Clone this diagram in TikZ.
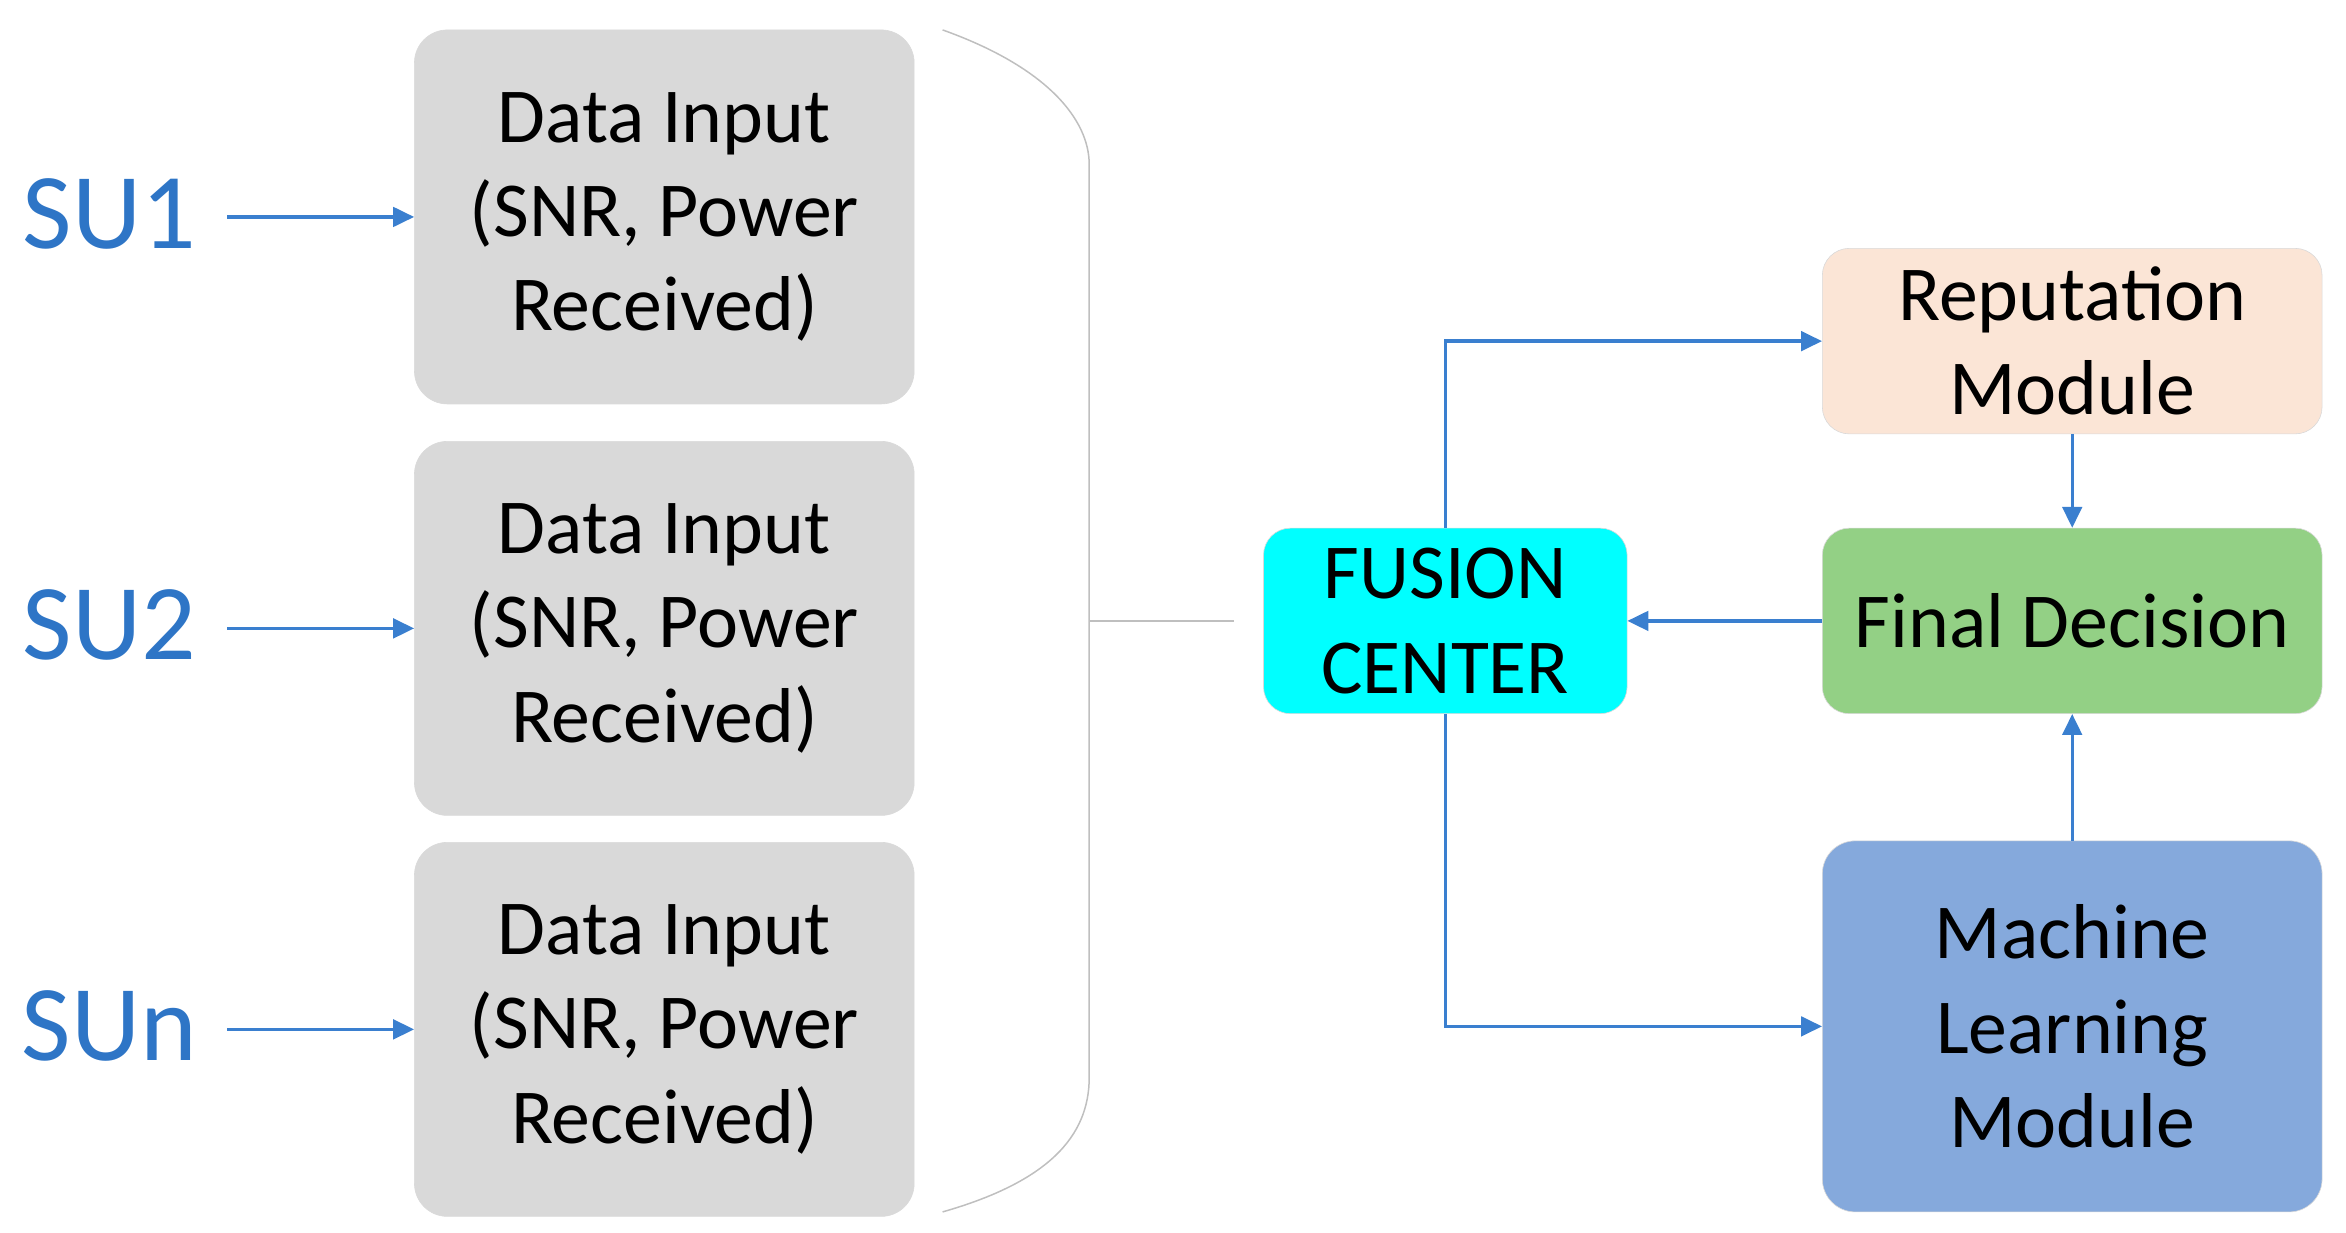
\documentclass[tikz,border=0pt]{standalone}
\usepackage{fontspec}
\setmainfont{Carlito}
\usetikzlibrary{arrows.meta}
\definecolor{ablue}{HTML}{3A7FCF}
\definecolor{sublue}{HTML}{2E75C6}
\definecolor{fccyan}{HTML}{00FFFF}
\begin{document}
\begin{tikzpicture}[x=1pt,y=-1pt,
  box/.style={draw=black!15,rounded corners=22pt,align=center,inner sep=0pt,font=\fontsize{52}{63}\selectfont},
  su/.style={text=sublue,font=\fontsize{72}{80}\selectfont,inner sep=0pt},
  arr/.style={draw=ablue,line width=2.2pt,-{Triangle[length=14pt,width=13pt]}}]
\useasboundingbox (0,0) rectangle (1568,824);
\foreach \n/\t/\y in {1/SU1/143,2/SU2/418,3/SUn/686}{
  \node[su] (s\n) at (73,\y) {\t};
  \node[box,fill=black!15,minimum width=334pt,minimum height=250pt] (d\n) at (444,\y+2) {Data Input\\(SNR, Power\\Received)};
  \coordinate (a\n) at (152,\y+2);
  \draw[arr] (a\n) -- (d\n.west);
}
\draw[black!25,line width=1pt] (630,20) .. controls (700,45) and (728,80) .. (728,110) -- (728,720) .. controls (728,760) and (700,790) .. (630,810);
\coordinate (bm) at (728,415); \coordinate (be) at (825,415);
\draw[black!25,line width=1pt] (bm) -- (be);
\node[box,fill=fccyan,rounded corners=18pt,minimum width=243pt,minimum height=124pt] (fc) at (966,415) {FUSION\\CENTER};
\node[box,fill={rgb,255:red,251;green,229;blue,214},rounded corners=18pt,minimum width=334pt,minimum height=124pt] (rep) at (1385,228) {Reputation\\Module};
\node[box,fill={rgb,255:red,147;green,208;blue,133},rounded corners=18pt,minimum width=334pt,minimum height=124pt] (fd) at (1385,415) {Final Decision};
\node[box,fill={rgb,255:red,133;green,169;blue,220},minimum width=334pt,minimum height=248pt] (ml) at (1385,686) {Machine\\Learning\\Module};
\draw[arr] (fc.north) |- (rep.west);
\draw[arr] (fc.south) |- (ml.west);
\draw[arr] (rep.south) -- (fd.north);
\draw[arr] (ml.north) -- (fd.south);
\draw[arr] (fd.west) -- (fc.east);
\end{tikzpicture}
\end{document}
